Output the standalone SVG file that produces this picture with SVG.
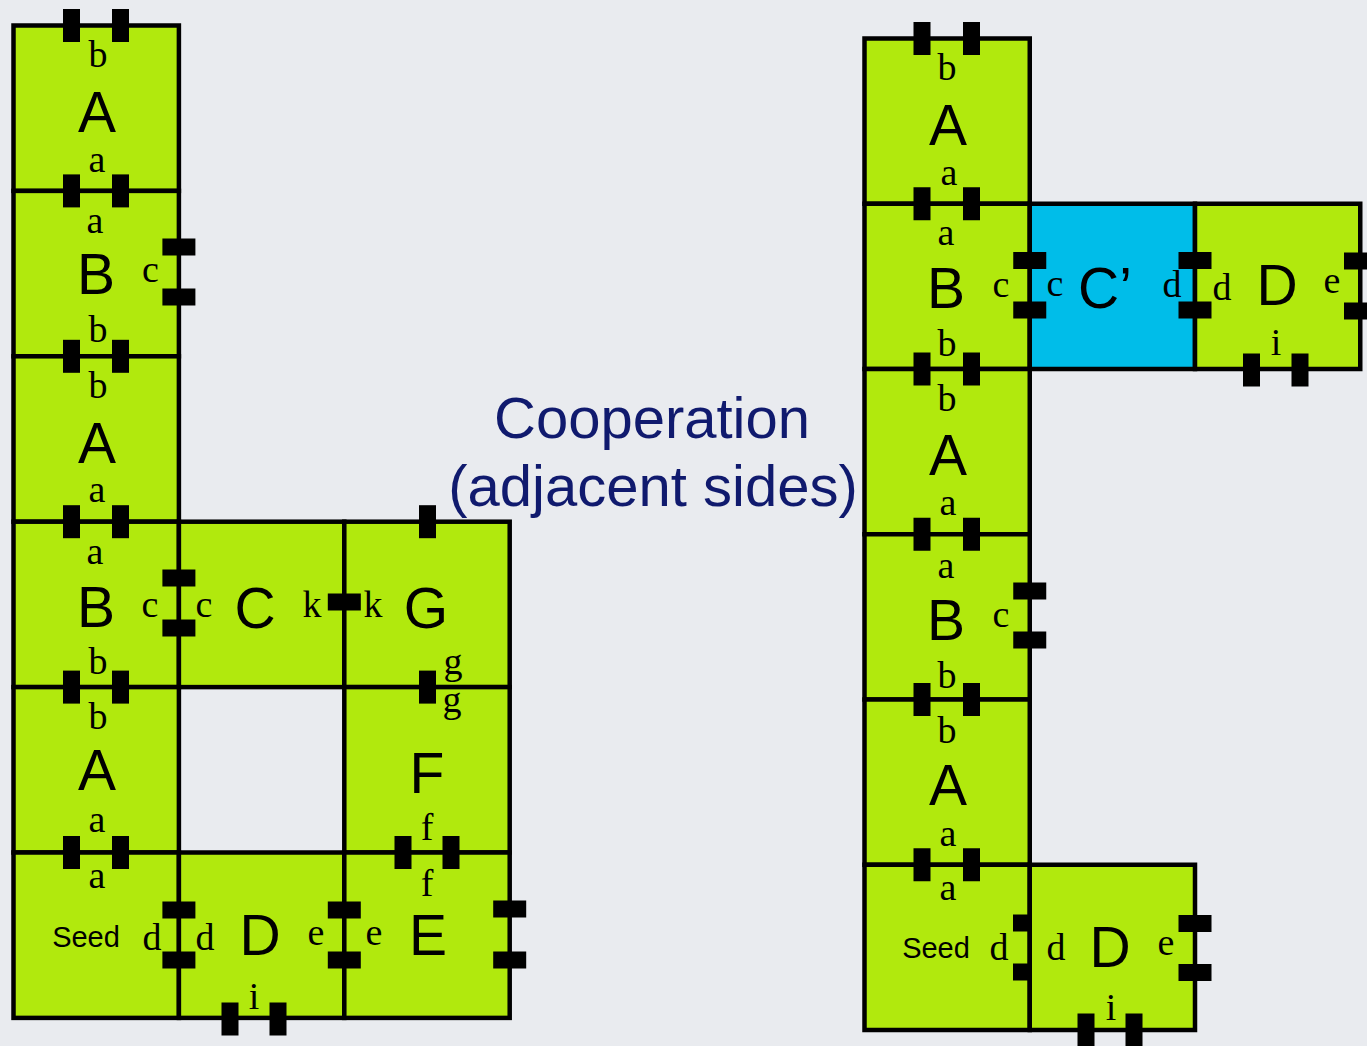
<svg xmlns="http://www.w3.org/2000/svg" width="1367" height="1046" viewBox="0 0 1367 1046">
<style>
.t{fill:#b1e90d;stroke:#000;stroke-width:4.5}
.bl{fill:#00bde9}
.k{fill:#000}
.big{font-family:"Liberation Sans",Arial,sans-serif;font-size:57px;text-anchor:middle;fill:#000}
.sm{font-family:"Liberation Serif","Times New Roman",serif;font-size:38px;text-anchor:middle;fill:#000}
.seed{font-family:"Liberation Sans",Arial,sans-serif;font-size:29px;text-anchor:middle;fill:#000}
.title{font-family:"Liberation Sans",Arial,sans-serif;font-size:58px;text-anchor:middle;fill:#101a6e}
</style>
<defs>
<rect id="tv" x="-8.5" y="-16.5" width="17" height="33" class="k"/>
<rect id="th" x="-16.5" y="-8.5" width="33" height="17" class="k"/>
</defs>
<rect width="1367" height="1046" fill="#e9ebef"/>
<g id="connectors"/>

<!-- LEFT STRUCTURE -->
<g id="L-A1">
<rect class="t" x="13.5" y="25.5" width="165.4" height="165.4"/>
<text class="sm" x="98" y="67">b</text><text class="big" x="97" y="132">A</text><text class="sm" x="97" y="172">a</text>
</g>
<g id="L-B1">
<rect class="t" x="13.5" y="190.9" width="165.4" height="165.4"/>
<text class="sm" x="95" y="233">a</text><text class="big" x="96" y="294">B</text><text class="sm" x="150.5" y="282">c</text><text class="sm" x="98" y="342">b</text>
</g>
<g id="L-A2">
<rect class="t" x="13.5" y="356.3" width="165.4" height="165.4"/>
<text class="sm" x="98" y="398">b</text><text class="big" x="97" y="463">A</text><text class="sm" x="97" y="502">a</text>
</g>
<g id="L-B2">
<rect class="t" x="13.5" y="521.7" width="165.4" height="165.4"/>
<text class="sm" x="95" y="564">a</text><text class="big" x="96" y="627">B</text><text class="sm" x="150" y="617">c</text><text class="sm" x="98" y="674">b</text>
</g>
<g id="L-C">
<rect class="t" x="178.9" y="521.7" width="165.4" height="165.4"/>
<text class="sm" x="204" y="617">c</text><text class="big" x="255" y="628">C</text><text class="sm" x="312" y="617">k</text>
</g>
<g id="L-G">
<rect class="t" x="344.3" y="521.7" width="165.4" height="165.4"/>
<text class="sm" x="373" y="617">k</text><text class="big" x="426" y="628">G</text><text class="sm" x="453" y="674">g</text>
</g>
<g id="L-A3">
<rect class="t" x="13.5" y="687.1" width="165.4" height="165.4"/>
<text class="sm" x="98" y="729">b</text><text class="big" x="97" y="790">A</text><text class="sm" x="97" y="832">a</text>
</g>
<g id="L-F">
<rect class="t" x="344.3" y="687.1" width="165.4" height="165.4"/>
<text class="sm" x="452" y="712">g</text><text class="big" x="427" y="793">F</text><text class="sm" x="427" y="840">f</text>
</g>
<g id="L-Seed">
<rect class="t" x="13.5" y="852.5" width="165.4" height="165.4"/>
<text class="sm" x="97" y="888">a</text><text class="seed" x="86" y="947">Seed</text><text class="sm" x="152" y="950">d</text>
</g>
<g id="L-D">
<rect class="t" x="178.9" y="852.5" width="165.4" height="165.4"/>
<text class="sm" x="205" y="950">d</text><text class="big" x="260" y="955">D</text><text class="sm" x="316" y="945">e</text><text class="sm" x="254" y="1009">i</text>
</g>
<g id="L-E">
<rect class="t" x="344.3" y="852.5" width="165.4" height="165.4"/>
<text class="sm" x="374" y="945">e</text><text class="big" x="428" y="955">E</text><text class="sm" x="427" y="896">f</text>
</g>
<g id="L-glues">
<use href="#tv" x="71.5" y="25.5"/><use href="#tv" x="120.5" y="25.5"/>
<use href="#tv" x="71.5" y="190.9"/><use href="#tv" x="120.5" y="190.9"/>
<use href="#tv" x="71.5" y="356.3"/><use href="#tv" x="120.5" y="356.3"/>
<use href="#tv" x="71.5" y="521.7"/><use href="#tv" x="120.5" y="521.7"/>
<use href="#tv" x="71.5" y="687.1"/><use href="#tv" x="120.5" y="687.1"/>
<use href="#tv" x="71.5" y="852.5"/><use href="#tv" x="120.5" y="852.5"/>
<use href="#tv" x="427.5" y="521.7"/>
<use href="#tv" x="427.5" y="687.1"/>
<use href="#tv" x="403" y="852.5"/><use href="#tv" x="451" y="852.5"/>
<use href="#tv" x="230" y="1019"/><use href="#tv" x="278" y="1019"/>
<use href="#th" x="178.9" y="247"/><use href="#th" x="178.9" y="297"/>
<use href="#th" x="178.9" y="578"/><use href="#th" x="178.9" y="628"/>
<use href="#th" x="344.3" y="602"/>
<use href="#th" x="178.9" y="910"/><use href="#th" x="178.9" y="960"/>
<use href="#th" x="344.3" y="910"/><use href="#th" x="344.3" y="960"/>
<use href="#th" x="509.7" y="909"/><use href="#th" x="509.7" y="960"/>
</g>

<!-- TITLE -->
<g id="title">
<text class="title" x="652" y="438">Cooperation</text>
<text class="title" x="653" y="506">(adjacent sides)</text>
</g>

<!-- RIGHT STRUCTURE -->
<g id="R-A1">
<rect class="t" x="864.5" y="38.5" width="165.25" height="165.25"/>
<text class="sm" x="947" y="80">b</text><text class="big" x="948" y="145">A</text><text class="sm" x="949" y="185">a</text>
</g>
<g id="R-B1">
<rect class="t" x="864.5" y="203.75" width="165.25" height="165.25"/>
<text class="sm" x="946" y="245">a</text><text class="big" x="946" y="308">B</text><text class="sm" x="1001" y="297">c</text><text class="sm" x="947" y="356">b</text>
</g>
<g id="R-Cp">
<rect class="t bl" x="1029.75" y="203.75" width="165.25" height="165.25"/>
<text class="sm" x="1055" y="296">c</text><text class="big" x="1105" y="308">C’</text><text class="sm" x="1172" y="297">d</text>
</g>
<g id="R-D1">
<rect class="t" x="1195" y="203.75" width="165.25" height="165.25"/>
<text class="sm" x="1222" y="300">d</text><text class="big" x="1277" y="305">D</text><text class="sm" x="1332" y="293">e</text><text class="sm" x="1276" y="355">i</text>
</g>
<g id="R-A2">
<rect class="t" x="864.5" y="369" width="165.25" height="165.25"/>
<text class="sm" x="947" y="411">b</text><text class="big" x="948" y="475">A</text><text class="sm" x="948" y="515">a</text>
</g>
<g id="R-B2">
<rect class="t" x="864.5" y="534.25" width="165.25" height="165.25"/>
<text class="sm" x="946" y="578">a</text><text class="big" x="946" y="640">B</text><text class="sm" x="1001" y="627">c</text><text class="sm" x="947" y="688">b</text>
</g>
<g id="R-A3">
<rect class="t" x="864.5" y="699.5" width="165.25" height="165.25"/>
<text class="sm" x="947" y="743">b</text><text class="big" x="948" y="805">A</text><text class="sm" x="948" y="846">a</text>
</g>
<g id="R-Seed">
<rect class="t" x="864.5" y="864.75" width="165.25" height="165.25"/>
<text class="sm" x="948" y="900">a</text><text class="seed" x="936" y="958">Seed</text><text class="sm" x="999" y="960">d</text>
</g>
<g id="R-D2">
<rect class="t" x="1029.75" y="864.75" width="165.25" height="165.25"/>
<text class="sm" x="1056" y="960">d</text><text class="big" x="1110" y="967">D</text><text class="sm" x="1166" y="955">e</text><text class="sm" x="1111" y="1020">i</text>
</g>
<g id="R-glues">
<use href="#tv" x="922" y="38.5"/><use href="#tv" x="971.5" y="38.5"/>
<use href="#tv" x="922" y="203.75"/><use href="#tv" x="971.5" y="203.75"/>
<use href="#tv" x="922" y="369"/><use href="#tv" x="971.5" y="369"/>
<use href="#tv" x="922" y="534.25"/><use href="#tv" x="971.5" y="534.25"/>
<use href="#tv" x="922" y="699.5"/><use href="#tv" x="971.5" y="699.5"/>
<use href="#tv" x="922" y="864.75"/><use href="#tv" x="971.5" y="864.75"/>
<use href="#tv" x="1251.5" y="370"/><use href="#tv" x="1300" y="370"/>
<use href="#tv" x="1086" y="1030"/><use href="#tv" x="1134" y="1030"/>
<use href="#th" x="1029.75" y="260.5"/><use href="#th" x="1029.75" y="310"/>
<use href="#th" x="1195" y="260.5"/><use href="#th" x="1195" y="310"/>
<use href="#th" x="1360.5" y="261"/><use href="#th" x="1360.5" y="311"/>
<use href="#th" x="1029.75" y="591"/><use href="#th" x="1029.75" y="640"/>
<rect class="k" x="1013" y="914.5" width="18" height="17"/><rect class="k" x="1013" y="963.5" width="18" height="17"/>
<use href="#th" x="1195" y="923.5"/><use href="#th" x="1195" y="972.5"/>
</g>
</svg>
